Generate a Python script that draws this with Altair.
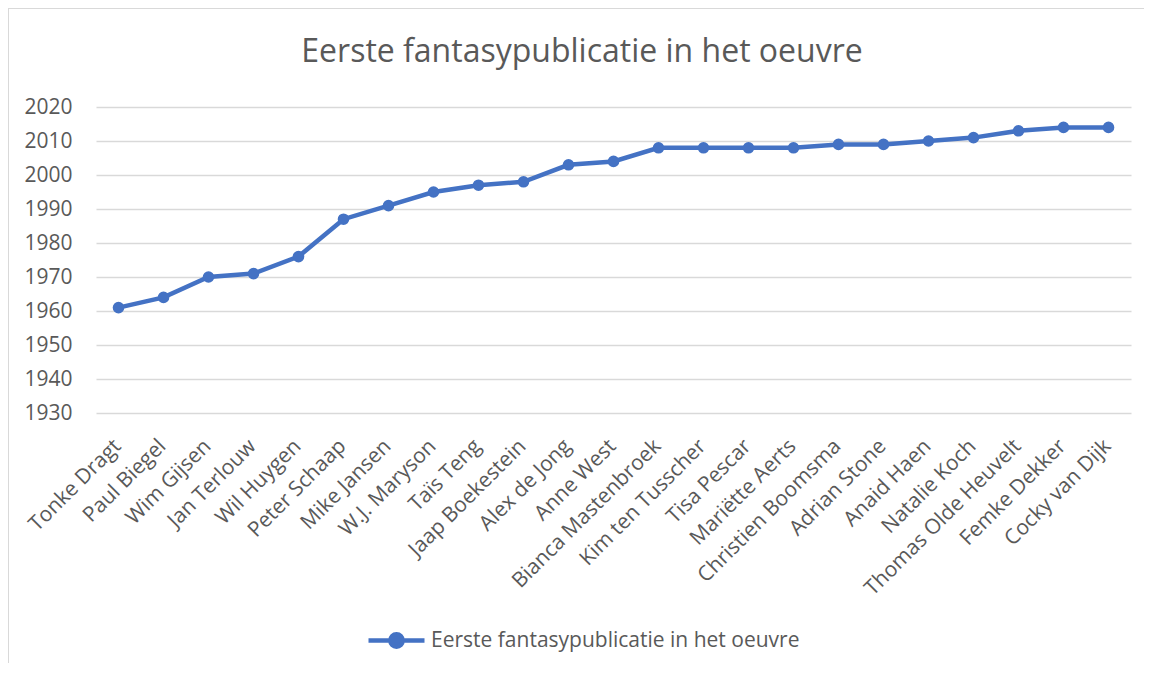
import altair as alt
import pandas as pd

names = ["Tonke Dragt", "Paul Biegel", "Wim Gijsen", "Jan Terlouw", "Wil Huygen",
         "Peter Schaap", "Mike Jansen", "W.J. Maryson", "Taïs Teng", "Jaap Boekestein",
         "Alex de Jong", "Anne West", "Bianca Mastenbroek", "Kim ten Tusscher",
         "Tisa Pescar", "Mariëtte Aerts", "Christien Boomsma", "Adrian Stone",
         "Anaid Haen", "Natalie Koch", "Thomas Olde Heuvelt", "Femke Dekker", "Cocky van Dijk"]
years = [1961, 1964, 1970, 1971, 1976, 1987, 1991, 1995, 1997, 1998, 2003, 2004,
         2008, 2008, 2008, 2008, 2009, 2009, 2010, 2011, 2013, 2014, 2014]
series_name = "Eerste fantasypublicatie in het oeuvre"
y_ticks = list(range(1930, 2030, 10))

df = pd.DataFrame({"naam": names, "jaar": years, "reeks": [series_name] * len(names)})

BLUE = "#4472C4"
GREY = "#595959"
FONT = "Open Sans"

color = alt.Color(
    "reeks:N",
    scale=alt.Scale(range=[BLUE]),
    legend=alt.Legend(
        title=None, orient="none", legendX=270, legendY=503,
        symbolType="M-1,0H1M-0.22,0A0.22,0.22,0,1,1,0.22,0A0.22,0.22,0,1,1,-0.22,0Z",
        symbolSize=3136, symbolStrokeWidth=4.5, symbolFillColor=BLUE,
        symbolStrokeColor=BLUE, labelFont=FONT, labelFontSize=21,
        labelColor=GREY, labelOffset=4, labelLimit=600,
    ),
)

base = alt.Chart(df).encode(
    x=alt.X("naam:N", sort=names,
            scale=alt.Scale(paddingInner=0, paddingOuter=0),
            axis=alt.Axis(title=None, labelAngle=-45, domain=False, ticks=False,
                          labelFont=FONT, labelFontSize=21, labelColor=GREY,
                          labelPadding=22, labelOffset=-9, labelLimit=400, grid=False)),
    y=alt.Y("jaar:Q", scale=alt.Scale(domain=[1930, 2020], nice=False, zero=False),
            axis=alt.Axis(title=None, values=y_ticks, domain=False, ticks=False,
                          labelFont=FONT, labelFontSize=21, labelColor=GREY,
                          labelPadding=24, grid=True, gridColor="#d9d9d9",
                          gridWidth=1.3, format="d")),
    color=color,
)

line = base.mark_line(strokeWidth=4.5, point=alt.OverlayMarkDef(filled=True, size=135, opacity=1))

border = alt.Chart(df).mark_rect(fill=None, stroke="#d9d9d9", strokeWidth=2).encode(
    x=alt.value(-88), x2=alt.value(1060), y=alt.value(-99), y2=alt.value(560)
)

chart = alt.layer(border, line).properties(
    width=1035, height=306,
    title=alt.Title(series_name, font=FONT, fontSize=32, fontWeight="normal",
                    color=GREY, anchor="middle", frame="bounds", offset=0, dy=62),
    autosize=alt.AutoSizeParams(type="none"),
    padding={"left": 88, "top": 99, "right": 13, "bottom": 250},
).configure_view(stroke=None)

chart.save("out.html", embed_options={"renderer": "svg", "actions": False})
